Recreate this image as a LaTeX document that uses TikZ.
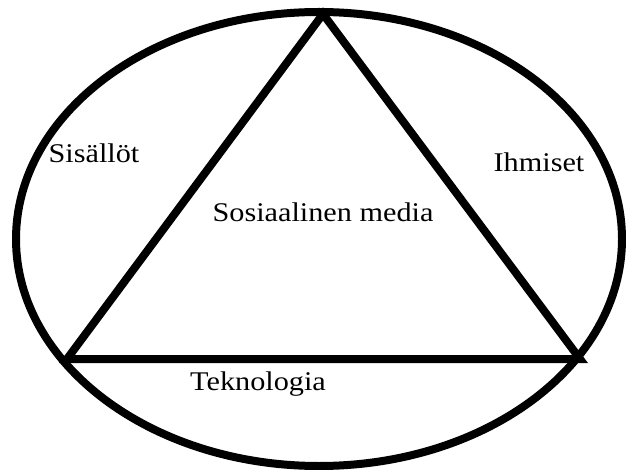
\documentclass[tikz,border=0pt]{standalone}
\usepackage{fontspec}
\setmainfont{Liberation Serif}[FakeStretch=1.12]
\usepackage{tikz}
\usetikzlibrary{calc, positioning}

\begin{document}
\begin{tikzpicture}[x=1pt, y=-1pt, line width=8pt]
    \useasboundingbox (0,0) rectangle (626,470);
    % Ellipsi
    \draw (319,239) ellipse [x radius=303, y radius=227];

    % Kolmion kärjet
    \coordinate (ylä) at (323,14);
    \coordinate (vasen) at (67,359);
    \coordinate (oikea) at (580,359);
    \draw[line join=miter] (ylä) -- (vasen) -- (oikea) -- cycle;

    % Tekstit
    \tikzset{teksti/.style={font=\fontsize{27}{30}\selectfont, anchor=base, inner sep=0pt}}
    \node[teksti] (sisallot) at (94,163) {Sisällöt};
    \node[teksti] (ihmiset) at (539,172) {Ihmiset};
    \node[teksti] (media) at (323,222) {Sosiaalinen media};
    \node[teksti] (teknologia) at (258,390) {Teknologia};
\end{tikzpicture}
\end{document}
